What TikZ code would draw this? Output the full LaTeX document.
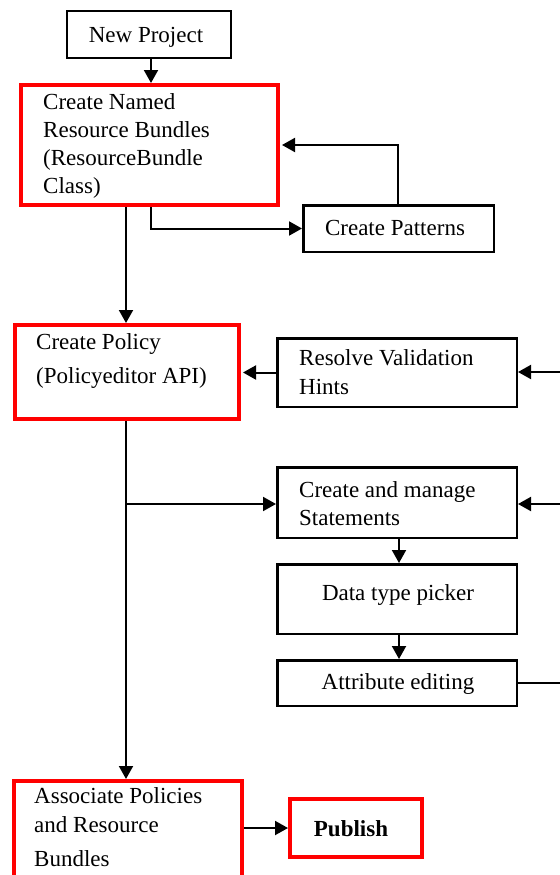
\documentclass[tikz,border=0pt]{standalone}
\usepackage{fontspec}
\setmainfont{Liberation Serif}
\usetikzlibrary{arrows.meta}
\newcommand{\tstrut}{\rule{0pt}{17bp}}
\begin{document}
\begin{tikzpicture}[x=1bp,y=-1bp,
  bbox/.style={draw=black,line width=2.5bp,fill=white,inner sep=0,rectangle},
  rbox/.style={draw=red,line width=4bp,fill=white,inner sep=0,rectangle},
  lbl/.style={font=\fontsize{23bp}{28bp}\selectfont,inner sep=0,anchor=north west,align=left},
  clbl/.style={font=\fontsize{23bp}{28bp}\selectfont,inner sep=0,anchor=base},
  conn/.style={line width=2bp,draw=black},
  arr/.style={conn,-{Triangle[length=13bp,width=14bp]}}]
\useasboundingbox (0,0) rectangle (560,875);

% boxes
\node[bbox,minimum width=163.5bp,minimum height=46.5bp] (np) at (149,34.5) {};
\node[rbox,minimum width=257bp,minimum height=120bp] (cnrb) at (149.5,145) {};
\node[bbox,minimum width=190.5bp,minimum height=46.5bp] (cp) at (398.5,228.5) {};
\node[rbox,minimum width=224bp,minimum height=94bp] (pol) at (127,372) {};
\node[bbox,minimum width=239.5bp,minimum height=68.5bp] (rvh) at (397,372.5) {};
\node[bbox,minimum width=239.5bp,minimum height=70.5bp] (cms) at (397,502.5) {};
\node[bbox,minimum width=239.5bp,minimum height=69.5bp] (dtp) at (397,599) {};
\node[bbox,minimum width=239.5bp,minimum height=45.5bp] (ae) at (397,683) {};
\node[rbox,minimum width=228bp,minimum height=117bp] (apr) at (128,839.5) {};
\node[rbox,minimum width=132bp,minimum height=58bp] (pub) at (356,828) {};

% labels
\node[clbl] (t-np) at (146,42) {New Project};
\node[lbl] (t-cnrb) at (43,92) {\tstrut Create Named\\Resource Bundles\\(ResourceBundle\\Class)};
\node[clbl] (t-cp) at (395,235) {Create Patterns};
\node[lbl] (t-pol) at (36,332) {\tstrut Create Policy\\[6bp](Policyeditor API)};
\node[lbl] (t-rvh) at (299,348) {\tstrut Resolve Validation\\[1bp]Hints};
\node[lbl] (t-cms) at (299,480) {\tstrut Create and manage\\Statements};
\node[clbl] (t-dtp) at (398,600) {Data type picker};
\node[clbl] (t-ae) at (398,689) {Attribute editing};
\node[lbl] (t-apr) at (34,786) {\tstrut Associate Policies\\[1bp]and Resource\\[6bp]Bundles};
\node[clbl,font=\fontsize{23bp}{28bp}\selectfont\bfseries] (t-pub) at (351,836) {Publish};

% guide coordinates for connector columns and free ends
\coordinate (x126) at (126,0);
\coordinate (x151) at (151,0);
\coordinate (x398) at (398,0);
\coordinate (x399) at (399,0);
\coordinate (br) at (126,504);
\coordinate (in1) at (560,372);
\coordinate (in2) at (560,504);
\coordinate (out1) at (560,683);

% connectors
\draw[arr] (x151 |- np.south) -- (x151 |- cnrb.north);
\draw[arr] (x151 |- cnrb.south) |- (cp.west);
\draw[arr,shorten >=2bp] (x398 |- cp.north) |- (cnrb.east);
\draw[arr] (x126 |- cnrb.south) -- (x126 |- pol.north);
\draw[arr,shorten >=2bp] (rvh.west) -- (rvh.west -| pol.east);
\draw[arr] (in1) -- (in1 -| rvh.east);
\draw[arr] (x126 |- pol.south) -- (x126 |- apr.north);
\draw[arr] (br) -- (br -| cms.west);
\draw[arr] (in2) -- (in2 -| cms.east);
\draw[arr] (x399 |- cms.south) -- (x399 |- dtp.north);
\draw[arr] (x399 |- dtp.south) -- (x399 |- ae.north);
\draw[conn] (ae.east) -- (out1);
\draw[arr] (apr.east |- pub.west) -- (pub.west);
\end{tikzpicture}
\end{document}
